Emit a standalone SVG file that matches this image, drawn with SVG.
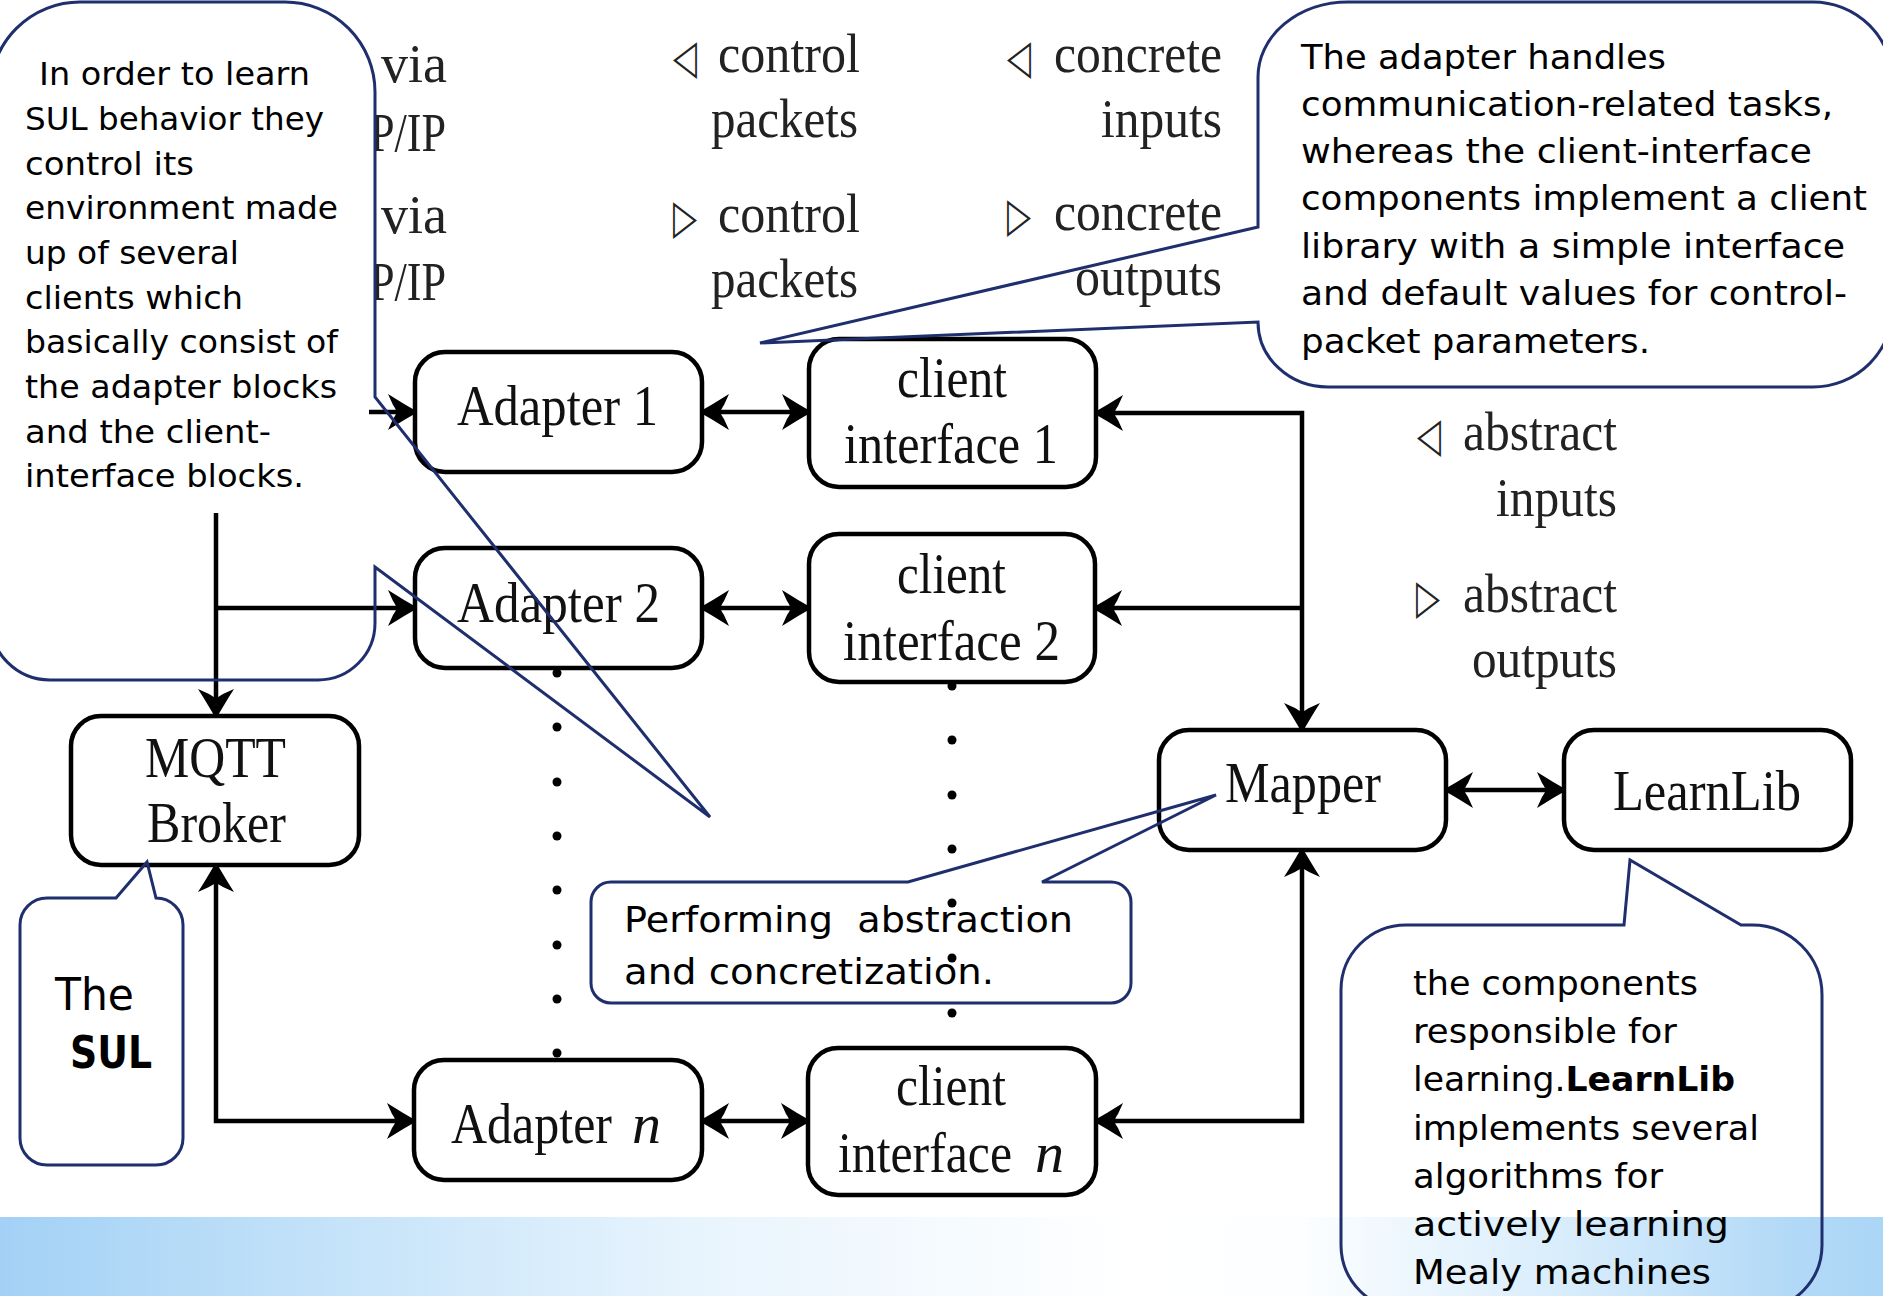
<svg xmlns="http://www.w3.org/2000/svg" width="1883" height="1296" viewBox="0 0 1883 1296">
  <defs>
    <linearGradient id="band" x1="0" y1="0" x2="1883" y2="0" gradientUnits="userSpaceOnUse">
      <stop offset="0" stop-color="#a3d1f5"/>
      <stop offset="0.17" stop-color="#c3e2f9"/>
      <stop offset="0.37" stop-color="#e8f4fd"/>
      <stop offset="0.6" stop-color="#ffffff"/>
      <stop offset="0.69" stop-color="#fcfeff"/>
      <stop offset="0.85" stop-color="#d3eafb"/>
      <stop offset="0.95" stop-color="#b2d9f7"/>
      <stop offset="1" stop-color="#acd6f6"/>
    </linearGradient>
    <marker id="ah" viewBox="-30 -20 34 40" markerWidth="34" markerHeight="40" refX="0" refY="0" orient="auto-start-reverse" markerUnits="userSpaceOnUse">
      <path d="M3,0 C-6,-5 -16,-11 -27,-18 L-22,-7 C-20,-4 -19,-2 -18,0 C-19,2 -20,4 -22,7 L-27,18 C-16,11 -6,5 3,0 Z" fill="#000"/>
    </marker>
    <clipPath id="clipLeft"><rect x="376" y="0" width="200" height="400"/></clipPath>
  </defs>
  <style>
    .box { fill: #fff; stroke: #000; stroke-width: 4.5; }
    .lbl { font-family: "Liberation Serif", "Times New Roman", serif; font-size: 56px; fill: #111; }
    .it { font-style: italic; }
    .sm { font-family: "Liberation Serif", "Times New Roman", serif; font-size: 54px; fill: #222; text-anchor: end; }
    .tri { font-family: "DejaVu Sans", sans-serif; font-size: 48px; fill: #222; }
    .wire { fill: none; stroke: #000; stroke-width: 4.5; stroke-linejoin: miter; }
    .e { marker-end: url(#ah); }
    .se { marker-start: url(#ah); marker-end: url(#ah); }
    .dot { fill: #000; }
    .callout { fill: none; stroke: #1f2f6e; stroke-width: 3; stroke-linejoin: miter; }
    .ct { font-family: "DejaVu Sans", "Noto Sans", sans-serif; font-size: 33px; fill: #000; }
    .ctl { font-family: "DejaVu Sans", "Noto Sans", sans-serif; font-size: 32px; fill: #000; }
    .ctm { font-family: "DejaVu Sans", "Noto Sans", sans-serif; font-size: 35px; fill: #000; white-space: pre; }
    .cts { font-family: "DejaVu Sans", "Noto Sans", sans-serif; font-size: 44px; fill: #000; }
    .b { font-weight: bold; }
  </style>

  <rect width="1883" height="1296" fill="#fff"/>
  <!-- bottom colour band -->
  <rect x="0" y="1217" width="1883" height="79" fill="url(#band)"/>

  <!-- channel labels -->
  <g id="labels">
    <text class="sm" x="447" y="82" textLength="66" lengthAdjust="spacingAndGlyphs">via</text>
    <text class="sm" x="446" y="151" textLength="76" lengthAdjust="spacingAndGlyphs" clip-path="url(#clipLeft)">P/IP</text>
    <text class="sm" x="447" y="233" textLength="66" lengthAdjust="spacingAndGlyphs">via</text>
    <text class="sm" x="446" y="300" textLength="76" lengthAdjust="spacingAndGlyphs" clip-path="url(#clipLeft)">P/IP</text>

    <text class="tri" x="673" y="73" textLength="24" lengthAdjust="spacingAndGlyphs">◁</text>
    <text class="sm" x="860" y="72" textLength="142" lengthAdjust="spacingAndGlyphs">control</text>
    <text class="sm" x="858" y="137" textLength="147" lengthAdjust="spacingAndGlyphs">packets</text>
    <text class="tri" x="673" y="233" textLength="24" lengthAdjust="spacingAndGlyphs">▷</text>
    <text class="sm" x="860" y="232" textLength="142" lengthAdjust="spacingAndGlyphs">control</text>
    <text class="sm" x="858" y="297" textLength="147" lengthAdjust="spacingAndGlyphs">packets</text>

    <text class="tri" x="1007" y="73" textLength="24" lengthAdjust="spacingAndGlyphs">◁</text>
    <text class="sm" x="1222" y="72" textLength="168" lengthAdjust="spacingAndGlyphs">concrete</text>
    <text class="sm" x="1222" y="137" textLength="121" lengthAdjust="spacingAndGlyphs">inputs</text>
    <text class="tri" x="1007" y="231" textLength="24" lengthAdjust="spacingAndGlyphs">▷</text>
    <text class="sm" x="1222" y="230" textLength="168" lengthAdjust="spacingAndGlyphs">concrete</text>
    <text class="sm" x="1222" y="295" textLength="147" lengthAdjust="spacingAndGlyphs">outputs</text>

    <text class="tri" x="1417" y="451" textLength="24" lengthAdjust="spacingAndGlyphs">◁</text>
    <text class="sm" x="1617" y="450" textLength="154" lengthAdjust="spacingAndGlyphs">abstract</text>
    <text class="sm" x="1617" y="516" textLength="121" lengthAdjust="spacingAndGlyphs">inputs</text>
    <text class="tri" x="1416" y="613" textLength="24" lengthAdjust="spacingAndGlyphs">▷</text>
    <text class="sm" x="1617" y="612" textLength="154" lengthAdjust="spacingAndGlyphs">abstract</text>
    <text class="sm" x="1617" y="677" textLength="145" lengthAdjust="spacingAndGlyphs">outputs</text>
  </g>

  <!-- vertical ellipses between the second and last rows -->
  <g id="ellipsis">
    <circle class="dot" cx="557" cy="673" r="4.5"/>
    <circle class="dot" cx="557" cy="727" r="4.5"/>
    <circle class="dot" cx="557" cy="782" r="4.5"/>
    <circle class="dot" cx="557" cy="836" r="4.5"/>
    <circle class="dot" cx="557" cy="890" r="4.5"/>
    <circle class="dot" cx="557" cy="945" r="4.5"/>
    <circle class="dot" cx="557" cy="999" r="4.5"/>
    <circle class="dot" cx="557" cy="1053" r="4.5"/>
    <circle class="dot" cx="952" cy="686" r="4.5"/>
    <circle class="dot" cx="952" cy="740" r="4.5"/>
    <circle class="dot" cx="952" cy="795" r="4.5"/>
    <circle class="dot" cx="952" cy="849" r="4.5"/>
    <circle class="dot" cx="952" cy="903" r="4.5"/>
    <circle class="dot" cx="952" cy="958" r="4.5"/>
    <circle class="dot" cx="952" cy="1013" r="4.5"/>
  </g>

  <!-- connectors -->
  <g id="connectors">
    <path class="wire e" d="M216,513 V716"/>
    <path class="wire e" d="M216,608 H415"/>
    <path class="wire e" d="M369,412 H415"/>
    <path class="wire se" d="M216,865 V1121 H414"/>
    <path class="wire se" d="M702,412 H809"/>
    <path class="wire se" d="M702,608 H809"/>
    <path class="wire se" d="M702,1121 H808"/>
    <path class="wire se" d="M1096,413 H1302 V730"/>
    <path class="wire e" d="M1302,608 H1095"/>
    <path class="wire se" d="M1302,850 V1121 H1096"/>
    <path class="wire se" d="M1446,790 H1564"/>
  </g>

  <!-- nodes -->
  <g id="adapter-1">
    <rect class="box" x="415" y="352" width="287" height="120" rx="30"/>
    <text class="lbl" x="457" y="425" textLength="201" lengthAdjust="spacingAndGlyphs">Adapter 1</text>
  </g>
  <g id="adapter-2">
    <rect class="box" x="415" y="548" width="287" height="120" rx="30"/>
    <text class="lbl" x="457" y="622" textLength="203" lengthAdjust="spacingAndGlyphs">Adapter 2</text>
  </g>
  <g id="adapter-n">
    <rect class="box" x="414" y="1060" width="288" height="120" rx="30"/>
    <text class="lbl" x="451" y="1143" textLength="161" lengthAdjust="spacingAndGlyphs">Adapter</text>
    <text class="lbl it" x="632" y="1143" textLength="29" lengthAdjust="spacingAndGlyphs">n</text>
  </g>
  <g id="client-interface-1">
    <rect class="box" x="809" y="339" width="287" height="148" rx="30"/>
    <text class="lbl" x="897" y="397" textLength="110" lengthAdjust="spacingAndGlyphs">client</text>
    <text class="lbl" x="844" y="463" textLength="214" lengthAdjust="spacingAndGlyphs">interface 1</text>
  </g>
  <g id="client-interface-2">
    <rect class="box" x="809" y="534" width="286" height="148" rx="30"/>
    <text class="lbl" x="897" y="593" textLength="109" lengthAdjust="spacingAndGlyphs">client</text>
    <text class="lbl" x="843" y="660" textLength="217" lengthAdjust="spacingAndGlyphs">interface 2</text>
  </g>
  <g id="client-interface-n">
    <rect class="box" x="808" y="1048" width="288" height="147" rx="30"/>
    <text class="lbl" x="896" y="1105" textLength="110" lengthAdjust="spacingAndGlyphs">client</text>
    <text class="lbl" x="838" y="1172" textLength="174" lengthAdjust="spacingAndGlyphs">interface</text>
    <text class="lbl it" x="1035" y="1172" textLength="29" lengthAdjust="spacingAndGlyphs">n</text>
  </g>
  <g id="mqtt-broker">
    <rect class="box" x="71" y="716" width="288" height="149" rx="30"/>
    <text class="lbl" x="145" y="777" textLength="141" lengthAdjust="spacingAndGlyphs">MQTT</text>
    <text class="lbl" x="147" y="842" textLength="139" lengthAdjust="spacingAndGlyphs">Broker</text>
  </g>
  <g id="mapper">
    <rect class="box" x="1159" y="730" width="287" height="120" rx="30"/>
    <text class="lbl" x="1225" y="802" textLength="156" lengthAdjust="spacingAndGlyphs">Mapper</text>
  </g>
  <g id="learnlib">
    <rect class="box" x="1564" y="730" width="287" height="120" rx="30"/>
    <text class="lbl" x="1613" y="810" textLength="188" lengthAdjust="spacingAndGlyphs">LearnLib</text>
  </g>

  <!-- annotation callouts -->
  <g id="callout-clients">
    <path class="callout" d="M-10,92 A90,90 0 0 1 80,2 L285,2 A90,90 0 0 1 375,92 L375,397 L710,817 L375,567 L375,623 A57,57 0 0 1 318,680 L50,680 A60,60 0 0 1 -10,620 Z"/>
    <text class="ctl" x="39" y="85" textLength="271" lengthAdjust="spacingAndGlyphs">In order to learn</text>
    <text class="ctl" x="25" y="130" textLength="299" lengthAdjust="spacingAndGlyphs">SUL behavior they</text>
    <text class="ctl" x="25" y="175" textLength="169" lengthAdjust="spacingAndGlyphs">control its</text>
    <text class="ctl" x="25" y="219" textLength="313" lengthAdjust="spacingAndGlyphs">environment made</text>
    <text class="ctl" x="25" y="264" textLength="214" lengthAdjust="spacingAndGlyphs">up of several</text>
    <text class="ctl" x="25" y="309" textLength="218" lengthAdjust="spacingAndGlyphs">clients which</text>
    <text class="ctl" x="25" y="353" textLength="313" lengthAdjust="spacingAndGlyphs">basically consist of</text>
    <text class="ctl" x="25" y="398" textLength="312" lengthAdjust="spacingAndGlyphs">the adapter blocks</text>
    <text class="ctl" x="25" y="443" textLength="246" lengthAdjust="spacingAndGlyphs">and the client-</text>
    <text class="ctl" x="25" y="487" textLength="279" lengthAdjust="spacingAndGlyphs">interface blocks.</text>
  </g>

  <g id="callout-adapter">
    <path class="callout" d="M1258,77 A90,75 0 0 1 1348,2 L1813,2 A80,80 0 0 1 1893,82 L1893,307 A80,80 0 0 1 1813,387 L1328,387 A70,65 0 0 1 1258,322 L760,343 L1258,227 Z"/>
    <text class="ct" x="1301" y="69" textLength="365" lengthAdjust="spacingAndGlyphs">The adapter handles</text>
    <text class="ct" x="1301" y="116" textLength="532" lengthAdjust="spacingAndGlyphs">communication-related tasks,</text>
    <text class="ct" x="1301" y="163" textLength="511" lengthAdjust="spacingAndGlyphs">whereas the client-interface</text>
    <text class="ct" x="1301" y="210" textLength="566" lengthAdjust="spacingAndGlyphs">components implement a client</text>
    <text class="ct" x="1301" y="258" textLength="544" lengthAdjust="spacingAndGlyphs">library with a simple interface</text>
    <text class="ct" x="1301" y="305" textLength="546" lengthAdjust="spacingAndGlyphs">and default values for control-</text>
    <text class="ct" x="1301" y="353" textLength="349" lengthAdjust="spacingAndGlyphs">packet parameters.</text>
  </g>

  <g id="callout-mapper">
    <path class="callout" d="M611,882 L908,882 L1216,795 L1042,882 L1111,882 A20,20 0 0 1 1131,902 L1131,983 A20,20 0 0 1 1111,1003 L611,1003 A20,20 0 0 1 591,983 L591,902 A20,20 0 0 1 611,882 Z"/>
    <text class="ctm" x="624" y="932" textLength="449" lengthAdjust="spacingAndGlyphs">Performing  abstraction</text>
    <text class="ctm" x="624" y="984" textLength="370" lengthAdjust="spacingAndGlyphs">and concretization.</text>
  </g>

  <g id="callout-sul">
    <path class="callout" d="M47,898 L116,898 L147,862 L156,898 A27,27 0 0 1 183,925 L183,1138 A27,27 0 0 1 156,1165 L47,1165 A27,27 0 0 1 20,1138 L20,925 A27,27 0 0 1 47,898 Z"/>
    <text class="cts" x="55" y="1010" textLength="79" lengthAdjust="spacingAndGlyphs">The</text>
    <text class="cts b" x="70" y="1068" textLength="82" lengthAdjust="spacingAndGlyphs">SUL</text>
  </g>

  <g id="callout-learnlib">
    <path class="callout" d="M1406,925 L1624,925 L1630,860 L1741,925 L1752,925 A70,70 0 0 1 1822,995 L1822,1245 A65,65 0 0 1 1757,1310 L1406,1310 A65,65 0 0 1 1341,1245 L1341,990 A65,65 0 0 1 1406,925 Z"/>
    <text class="ct" x="1413" y="995" textLength="285" lengthAdjust="spacingAndGlyphs">the components</text>
    <text class="ct" x="1413" y="1043" textLength="264" lengthAdjust="spacingAndGlyphs">responsible for</text>
    <text class="ct" x="1413" y="1091" textLength="322" lengthAdjust="spacingAndGlyphs">learning.<tspan class="b">LearnLib</tspan></text>
    <text class="ct" x="1413" y="1140" textLength="346" lengthAdjust="spacingAndGlyphs">implements several</text>
    <text class="ct" x="1413" y="1188" textLength="250" lengthAdjust="spacingAndGlyphs">algorithms for</text>
    <text class="ct" x="1413" y="1236" textLength="316" lengthAdjust="spacingAndGlyphs">actively learning</text>
    <text class="ct" x="1413" y="1284" textLength="298" lengthAdjust="spacingAndGlyphs">Mealy machines</text>
  </g>
</svg>
